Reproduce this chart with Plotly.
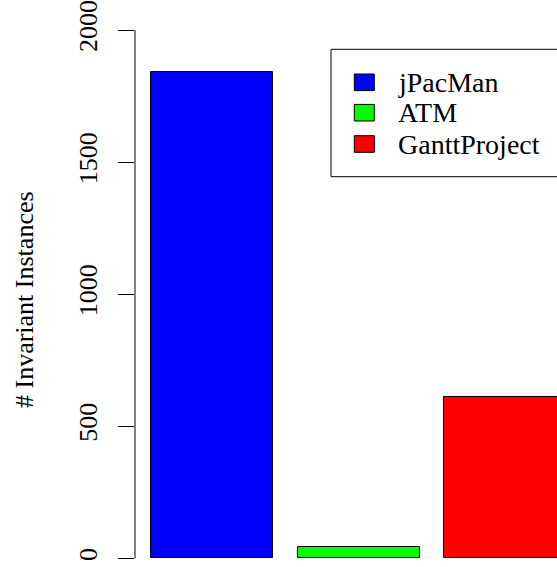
import plotly.graph_objects as go

# ---- data ----
projects = ["jPacMan", "ATM", "GanttProject"]
instances = [1840, 42, 610]
colors = ["#0000FF", "#00FF00", "#FF0000"]
y_ticks = [0, 500, 1000, 1500, 2000]
y_title = "# Invariant Instances"

W, H = 557, 567
L = 135  # left margin (axis position)
FONT = "Liberation Serif"

# R barplot layout: width 1, space 0.2
bar_w = 1.0
space = 0.2
centers = [space + i * (bar_w + space) + bar_w / 2 for i in range(len(projects))]

px_per_unit = 122.25
left_x = space - (151 - L) / px_per_unit
right_x = left_x + (W - L) / px_per_unit

ypx0, ypx2000 = 558.3, 30.0
ys = (ypx0 - ypx2000) / 2000.0
y_top = 2000 + ypx2000 / ys
y_bot = -(H - ypx0) / ys

def pxx(p):
    return (p - L) / (W - L)

def pxy(p):
    return 1 - p / H

fig = go.Figure()
fig.add_trace(go.Bar(
    x=centers, y=instances, width=bar_w,
    marker=dict(color=colors, line=dict(color="black", width=1)),
    showlegend=False, hoverinfo="skip",
))

# axis line from first to last tick (R style)
fig.add_shape(type="line", xref="paper", yref="y",
              x0=0, x1=0, y0=y_ticks[0], y1=y_ticks[-1],
              line=dict(color="black", width=1))

# y title
fig.add_annotation(text=y_title, xref="paper", yref="paper",
                   x=pxx(24), y=pxy(300), textangle=-90,
                   showarrow=False, xanchor="center", yanchor="middle",
                   font=dict(family=FONT, size=26, color="black"))

# legend (R style box, extends past right edge)
fig.add_shape(type="rect", xref="paper", yref="paper",
              x0=pxx(331), x1=pxx(600), y0=pxy(49.3), y1=pxy(176.7),
              line=dict(color="black", width=1), fillcolor="rgba(0,0,0,0)")
row_y = [82.3, 112.7, 144.0]
for name, col, ry in zip(projects, colors, row_y):
    fig.add_shape(type="rect", xref="paper", yref="paper",
                  x0=pxx(354.3), x1=pxx(374.3), y0=pxy(ry - 8.3), y1=pxy(ry + 8.3),
                  line=dict(color="black", width=1), fillcolor=col)
    fig.add_annotation(text=name, xref="paper", yref="paper",
                       x=pxx(396), y=pxy(ry), showarrow=False,
                       xanchor="left", yanchor="middle",
                       font=dict(family=FONT, size=28, color="black"))

fig.update_layout(
    width=W, height=H,
    margin=dict(l=L, r=0, t=0, b=0, pad=0),
    paper_bgcolor="white", plot_bgcolor="white",
    xaxis=dict(range=[left_x, right_x], visible=False),
    yaxis=dict(range=[y_bot, y_top], tickvals=y_ticks,
               ticktext=[str(v) for v in y_ticks],
               ticks="outside", ticklen=16, tickwidth=1, tickcolor="black",
               tickangle=-90, showgrid=False, zeroline=False, showline=False,
               ticklabelstandoff=11,
               tickfont=dict(family=FONT, size=26, color="black")),
    bargap=0,
)

fig.write_html("out.html", config={"displayModeBar": False},
               post_script="document.body.style.margin='0';document.body.style.overflow='hidden';")
